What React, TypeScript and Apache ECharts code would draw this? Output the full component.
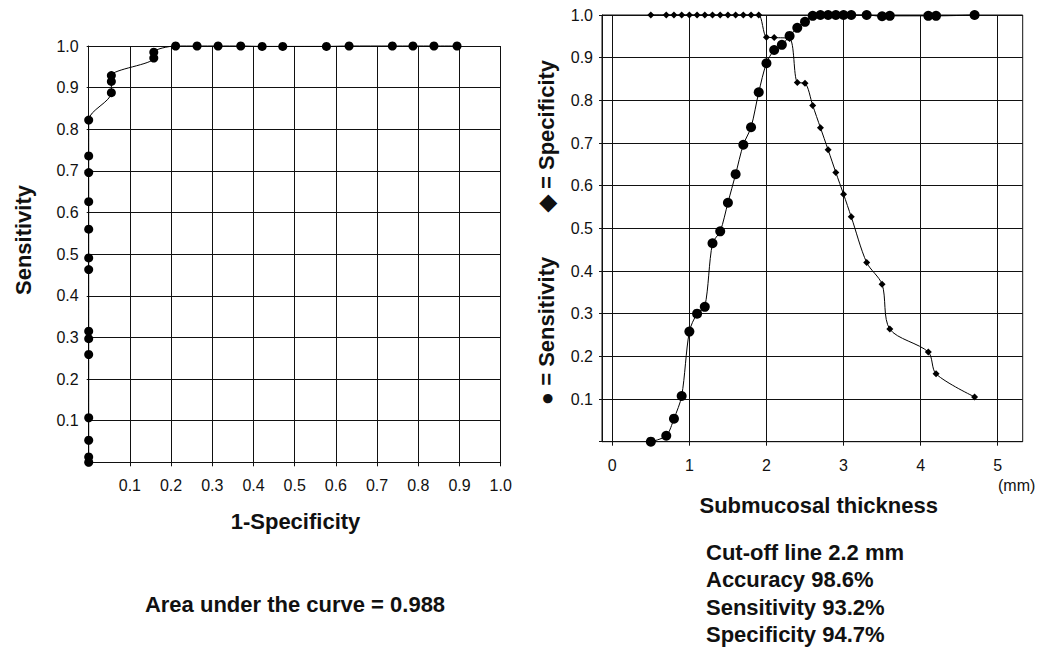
import React, { useEffect, useRef } from "react";
import * as echarts from "echarts";

// ROC curve (left panel)
const rocFpr = [0, 0, 0, 0, 0, 0, 0, 0, 0, 0, 0, 0, 0, 0, 0.055, 0.055, 0.055, 0.158, 0.158, 0.211, 0.263, 0.314, 0.369, 0.421, 0.471, 0.577, 0.632, 0.737, 0.787, 0.838, 0.894];
const rocSens = [0.0, 0.013, 0.053, 0.107, 0.259, 0.297, 0.315, 0.463, 0.491, 0.56, 0.626, 0.696, 0.736, 0.822, 0.888, 0.915, 0.929, 0.971, 0.985, 1.0, 1.0, 1.0, 1.0, 0.999, 0.999, 0.999, 1.0, 1.0, 1.0, 1.0, 1.0];

// Submucosal thickness (right panel)
const specThickness = [0.5, 0.7, 0.8, 0.9, 1.0, 1.1, 1.2, 1.3, 1.4, 1.5, 1.6, 1.7, 1.8, 1.9, 2.0, 2.1, 2.3, 2.4, 2.5, 2.6, 2.7, 2.8, 2.9, 3.0, 3.1, 3.3, 3.5, 3.6, 4.1, 4.2, 4.7];
const specValues = [1, 1, 1, 1, 1, 1, 1, 1, 1, 1, 1, 1, 1, 1, 0.948, 0.947, 0.945, 0.842, 0.84, 0.788, 0.736, 0.684, 0.631, 0.58, 0.527, 0.42, 0.369, 0.264, 0.21, 0.159, 0.105];
const sensThickness = [0.5, 0.7, 0.8, 0.9, 1.0, 1.1, 1.2, 1.3, 1.4, 1.5, 1.6, 1.7, 1.8, 1.9, 2.0, 2.1, 2.2, 2.3, 2.4, 2.5, 2.6, 2.7, 2.8, 2.9, 3.0, 3.1, 3.3, 3.5, 3.6, 4.1, 4.2, 4.7];
const sensValues = [0.0, 0.014, 0.054, 0.107, 0.258, 0.3, 0.316, 0.465, 0.493, 0.56, 0.627, 0.696, 0.737, 0.819, 0.887, 0.918, 0.93, 0.951, 0.97, 0.984, 0.998, 1.0, 1.0, 1.0, 1.0, 1.0, 1.0, 0.997, 0.998, 0.998, 0.998, 1.0];

const infoLines = ["Cut-off line 2.2 mm", "Accuracy 98.6%", "Sensitivity 93.2%", "Specificity 94.7%"];

const FONT = "'Liberation Sans', Arial, Helvetica, sans-serif";
const INK = "#111";

export default function App() {
  const ref = useRef<HTMLDivElement>(null);

  useEffect(() => {
    if (!ref.current) return;
    const chart = echarts.init(ref.current, null, { renderer: "svg" });

    const hideZero = (v: number) => (Math.abs(v) < 1e-9 ? "" : v.toFixed(1));
    const label = (margin: number, fmt?: any) => ({
      color: INK,
      fontSize: 16,
      fontFamily: FONT,
      margin,
      formatter: fmt,
    });
    const split = { show: true, lineStyle: { color: INK, width: 1 } };
    const axLine = { show: true, lineStyle: { color: INK, width: 1 } };

    const boldText = (text: string, x: number, y: number, align = "center", rotation = 0) => ({
      type: "text",
      x,
      y,
      rotation,
      silent: true,
      style: {
        text,
        fill: INK,
        font: `bold 22px ${FONT}`,
        textAlign: align,
        textVerticalAlign: "middle",
      },
    });

    const option: any = {
      animation: false,
      backgroundColor: "#fff",
      grid: [
        { left: 88.7, top: 46, width: 412, height: 416.3, outerBoundsMode: "none" },
        { left: 602, top: 15, width: 420.7, height: 426.7, show: true, borderColor: INK, borderWidth: 1, outerBoundsMode: "none" },
        { left: 612.3, top: 15, width: 385.4, height: 426.7, outerBoundsMode: "none" },
      ],
      xAxis: [
        {
          type: "value",
          gridIndex: 0,
          min: 0,
          max: 1,
          interval: 0.1,
          axisLine: axLine,
          axisTick: { show: true, length: 4, lineStyle: { color: INK } },
          axisLabel: label(15, hideZero),
          splitLine: split,
        },
        { type: "value", gridIndex: 1, min: 0, max: 1, show: false },
        {
          type: "value",
          gridIndex: 2,
          min: 0,
          max: 5,
          interval: 1,
          axisLine: { show: false },
          axisTick: { show: true, length: 4, lineStyle: { color: INK } },
          axisLabel: label(16, (v: number) => String(v)),
          splitLine: split,
        },
      ],
      yAxis: [
        {
          type: "value",
          gridIndex: 0,
          min: 0,
          max: 1,
          interval: 0.1,
          axisLine: axLine,
          axisTick: { show: true, length: 2, lineStyle: { color: INK } },
          axisLabel: label(10, hideZero),
          splitLine: split,
        },
        {
          type: "value",
          gridIndex: 1,
          min: 0,
          max: 1,
          interval: 0.1,
          axisLine: axLine,
          axisTick: { show: true, length: 3, lineStyle: { color: INK } },
          axisLabel: label(9, hideZero),
          splitLine: split,
        },
        { type: "value", gridIndex: 2, min: 0, max: 1, show: false },
      ],
      series: [
        {
          name: "ROC",
          type: "line",
          xAxisIndex: 0,
          yAxisIndex: 0,
          data: rocFpr.map((x, i) => [x, rocSens[i]]),
          symbol: "circle",
          symbolSize: 9,
          smooth: 0.3,
          clip: false,
          itemStyle: { color: "#000" },
          lineStyle: { color: "#000", width: 1 },
        },
        {
          name: "Specificity",
          type: "line",
          xAxisIndex: 2,
          yAxisIndex: 2,
          data: specThickness.map((x, i) => [x, specValues[i]]),
          symbol: "diamond",
          symbolSize: 7,
          smooth: 0.3,
          clip: false,
          itemStyle: { color: "#000" },
          lineStyle: { color: "#000", width: 1 },
        },
        {
          name: "Sensitivity",
          type: "line",
          xAxisIndex: 2,
          yAxisIndex: 2,
          data: sensThickness.map((x, i) => [x, sensValues[i]]),
          symbol: "circle",
          symbolSize: 10,
          smooth: 0.3,
          clip: false,
          itemStyle: { color: "#000" },
          lineStyle: { color: "#000", width: 1 },
        },
      ],
      graphic: [
        boldText("Sensitivity", 23, 240, "center", Math.PI / 2),
        boldText("1-Specificity", 295.5, 521),
        boldText("Area under the curve = 0.988", 295, 604),
        boldText("\u25CF = Sensitivity", 546, 331, "center", Math.PI / 2),
        boldText("\u25C6 = Specificity", 546, 136, "center", Math.PI / 2),
        boldText("Submucosal thickness", 818.7, 505),
        ...infoLines.map((t, i) => boldText(t, 706, 552 + i * 27.5, "left")),
        {
          type: "text",
          x: 998,
          y: 485,
          silent: true,
          style: { text: "(mm)", fill: INK, font: `16px ${FONT}`, textAlign: "left", textVerticalAlign: "middle" },
        },
      ],
    };

    chart.setOption(option);
    return () => chart.dispose();
  }, []);

  return (
    <div
      ref={ref}
      style={{ position: "fixed", left: 0, top: 0, width: 1047, height: 647, background: "#fff" }}
    />
  );
}
